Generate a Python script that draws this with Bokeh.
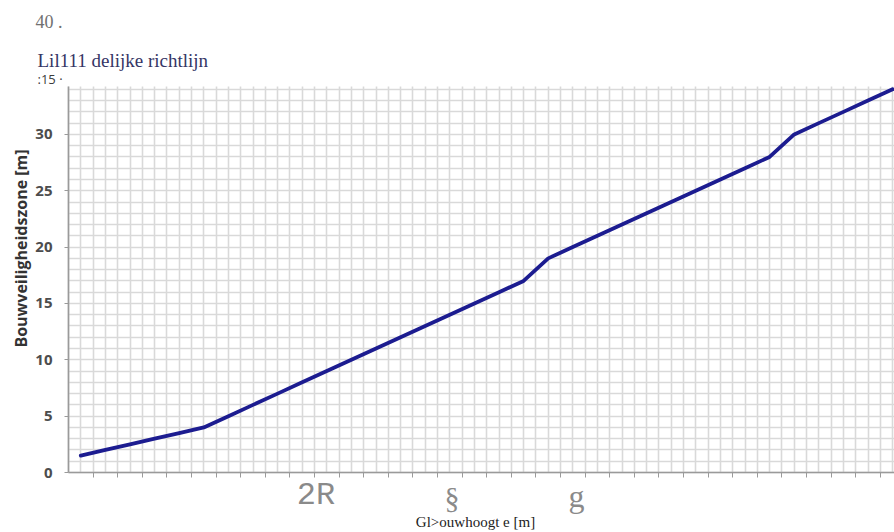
import math
from bokeh.plotting import figure
from bokeh.models import Range1d, FixedTicker, Label, LinearAxis, Grid
from bokeh.embed import file_html
from bokeh.resources import INLINE

# building height (category) and safety zone values
hoogte = [1, 2, 3, 4, 5, 6, 7, 8, 9, 10, 11, 12, 13, 14, 15, 16, 17,
          18, 19, 20, 21, 22, 23, 24, 25, 26, 27, 28, 29, 30, 31, 32, 33, 34]
zone = [1.5, 2, 2.5, 3, 3.5, 4, 5, 6, 7, 8, 9, 10, 11, 12, 13, 14, 15,
        16, 17, 19, 20, 21, 22, 23, 24, 25, 26, 27, 28, 30, 31, 32, 33, 34]
y_ticks = [0, 5, 10, 15, 20, 25, 30]

# texts as they appear on the scan
title_text = "Lil111 delijke richtlijn"
top_tick_text = "40 ."
mid_tick_text = ":15 ·"
x_bits = ["2R", "§", "g"]
x_label_text = "Gl>ouwhoogt e [m]"
y_label_text = "Bouwveiligheidszone [m]"

W, H = 894, 532
LEFT, BOTTOM = 68, 472          # pixel position of the axes
PX_X = 24.6                     # pixels per category
PX_Y = 11.27                    # pixels per metre
X0 = 0.5                        # data value at the y axis
X_END = X0 + (W - LEFT) / PX_X
Y_TOP = (BOTTOM - 86) / PX_Y    # top of the visible plot area


def dx(px):
    return (px - LEFT) / PX_X + X0


def dy(py):
    return (BOTTOM - py) / PX_Y


p = figure(width=W, height=H, output_backend="svg", toolbar_location=None,
           x_range=Range1d(dx(0), dx(W)), y_range=Range1d(dy(H), dy(0)),
           x_axis_location=None, y_axis_location=None,
           min_border_left=0, min_border_right=0, min_border_top=0,
           min_border_bottom=0)
p.outline_line_color = None
p.background_fill_color = "white"
# drop any default grids
p.center = [r for r in p.center if not isinstance(r, Grid)]

# grid
xg = Grid(dimension=0, ticker=FixedTicker(ticks=[X0 + 0.5 * k for k in range(0, 70)]),
          bounds=(X0, X_END), cross_bounds=(0, Y_TOP),
          grid_line_color="#d9d9d9", grid_line_width=1.6)
yg = Grid(dimension=1, ticker=FixedTicker(ticks=list(range(0, 35))),
          bounds=(0, Y_TOP), cross_bounds=(X0, X_END),
          grid_line_color="#d9d9d9", grid_line_width=1.6)
p.add_layout(xg)
p.add_layout(yg)

# x axis (tick marks only)
xa = LinearAxis(fixed_location=0, bounds=(X0, X_END),
                ticker=FixedTicker(ticks=[], minor_ticks=[X0 + k for k in range(1, 35)]),
                axis_line_color="#9a9a9a", axis_line_width=1.6,
                major_tick_line_color=None,
                minor_tick_in=0, minor_tick_out=5,
                minor_tick_line_color="#9a9a9a", minor_tick_line_width=1)
p.add_layout(xa, "below")

# y axis
ya = LinearAxis(fixed_location=X0, bounds=(0, Y_TOP),
                ticker=FixedTicker(ticks=y_ticks),
                axis_line_color="#9a9a9a", axis_line_width=1.6,
                major_tick_in=0, major_tick_out=4,
                major_tick_line_color="#9a9a9a",
                minor_tick_line_color=None,
                major_label_standoff=12,
                major_label_text_font="Open Sans",
                major_label_text_font_style="bold",
                major_label_text_font_size="15px",
                major_label_text_color="#4d4d4d")
p.add_layout(ya, "left")

p.line(hoogte, zone, line_color="#1c1c90", line_width=3.8, line_join="round",
       line_cap="round")

labels = [
    Label(x=dx(35), y=dy(21), text=top_tick_text, text_font="Liberation Serif",
          text_font_size="18px", text_color="#707070", text_baseline="middle",
          text_align="left"),
    Label(x=dx(37), y=dy(60), text=title_text, text_font="Liberation Serif",
          text_font_size="19px", text_color="#353565", text_baseline="middle",
          text_align="left"),
    Label(x=dx(37), y=dy(78), text=mid_tick_text, text_font="Open Sans",
          text_font_size="13px", text_color="#3c3c3c", text_baseline="middle",
          text_align="left"),
    Label(x=dx(315.5), y=dy(495), text=x_bits[0], text_font="Liberation Mono",
          text_font_size="32px", text_color="#8a8a8a", text_baseline="middle",
          text_align="center"),
    Label(x=dx(451.5), y=dy(497), text=x_bits[1], text_font="Liberation Serif",
          text_font_size="30px", text_color="#8a8a8a", text_baseline="middle",
          text_align="center"),
    Label(x=dx(576), y=dy(495), text=x_bits[2], text_font="Liberation Serif",
          text_font_size="32px", text_color="#8a8a8a", text_baseline="middle",
          text_align="center"),
    Label(x=dx(475), y=dy(521), text=x_label_text, text_font="Liberation Serif",
          text_font_size="15px", text_color="#222222", text_baseline="middle",
          text_align="center"),
    Label(x=dx(20), y=dy(248), text=y_label_text, text_font="Open Sans",
          text_font_size="16px", text_font_style="bold", text_color="#333333",
          text_baseline="middle", text_align="center", angle=math.pi / 2),
]
for lab in labels:
    p.add_layout(lab)

open("out.html", "w").write(file_html(p, INLINE))
